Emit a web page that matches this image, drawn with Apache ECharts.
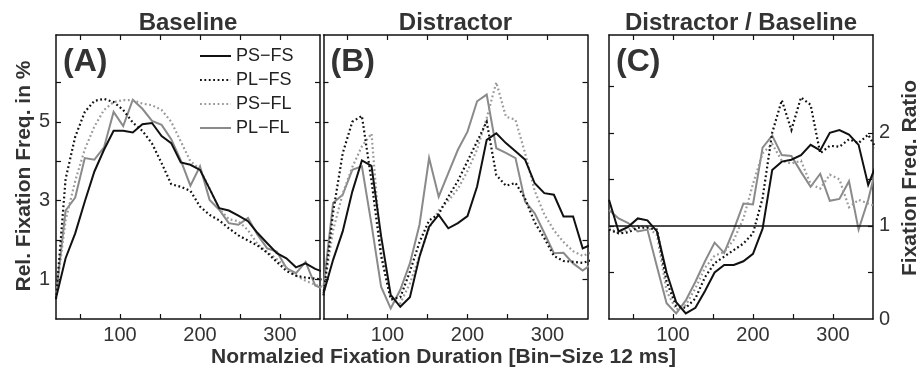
<!DOCTYPE html>
<html>
<head>
<meta charset="utf-8">
<script src="https://cdn.jsdelivr.net/npm/echarts@6/dist/echarts.min.js"></script>
<style>
  html, body { margin: 0; padding: 0; background: #fff; }
  #chart { width: 917px; height: 369px; }
</style>
</head>
<body>
<div id="chart"></div>
<script>
// normalised fixation duration (bin centres)
const durations = [20, 32, 44, 56, 68, 80, 92, 104, 116, 128, 140, 152, 164, 176, 188,
  200, 212, 224, 236, 248, 260, 272, 284, 296, 308, 320, 332, 344, 356];

// (A) Baseline, rel. fixation freq. in %
const basePSFS = [0.53, 1.54, 2.17, 2.98, 3.74, 4.29, 4.77, 4.77, 4.73, 4.94, 4.97, 4.64, 4.46, 3.97, 3.91,
  3.78, 3.3, 2.81, 2.75, 2.62, 2.48, 2.18, 1.92, 1.67, 1.54, 1.31, 1.41, 1.27, 1.18];
const basePLFS = [0.5, 3.55, 4.62, 5.25, 5.53, 5.58, 5.5, 5.3, 4.98, 4.77, 4.45, 3.95, 3.42, 3.35, 3.25,
  2.85, 2.64, 2.5, 2.3, 2.12, 1.99, 1.86, 1.68, 1.45, 1.22, 1.1, 1.05, 1.02, 1.0];
const basePSFL = [0.6, 2.5, 3.5, 4.3, 4.88, 5.3, 5.5, 5.55, 5.55, 5.46, 5.42, 5.3, 5.0, 4.5, 4.0,
  3.8, 3.3, 2.8, 2.53, 2.48, 2.25, 1.9, 1.7, 1.52, 1.3, 1.1, 0.97, 0.87, 0.8];
const basePLFL = [0.6, 2.75, 3.08, 4.08, 4.04, 4.35, 5.25, 4.89, 5.56, 5.33, 5.02, 4.92, 4.56, 4.02, 3.38,
  3.87, 3.02, 2.77, 2.43, 2.39, 2.56, 2.13, 1.79, 1.71, 1.29, 1.16, 1.45, 0.85, 0.75];

// (B) Distractor
const distPSFS = [0.65, 1.5, 2.22, 3.23, 4.02, 3.88, 2.1, 0.61, 0.31, 0.55, 1.58, 2.34, 2.64, 2.3, 2.43,
  2.61, 3.36, 4.54, 4.71, 4.46, 4.25, 4.04, 3.44, 3.19, 3.15, 2.6, 2.6, 1.79, 1.9];
const distPLFS = [0.6, 2.7, 4.2, 5.0, 5.15, 3.5, 1.6, 0.5, 0.55, 1.2, 1.95, 2.5, 2.66, 3.1, 3.5,
  4.0, 4.5, 5.0, 3.65, 3.38, 3.45, 3.05, 2.45, 2.05, 1.6, 1.47, 1.45, 1.42, 1.5];
const distPSFL = [0.7, 2.25, 3.18, 3.85, 4.38, 4.7, 1.7, 0.5, 0.4, 0.9, 1.6, 2.3, 2.75, 3.0, 3.3,
  3.75, 4.3, 5.1, 6.0, 5.13, 5.05, 4.2, 3.25, 2.65, 2.25, 1.95, 1.72, 1.6, 1.7];
const distPLFL = [0.82, 2.94, 3.15, 3.78, 3.87, 2.4, 0.82, 0.27, 0.74, 1.41, 2.39, 4.08, 3.1, 3.7, 4.29,
  4.75, 5.52, 5.69, 4.33, 4.21, 4.08, 2.98, 2.68, 2.18, 1.67, 1.68, 1.41, 1.23, 1.4];

// (C) Distractor / Baseline ratio
const ratioPSFS = [1.28, 0.94, 0.99, 1.08, 1.06, 0.94, 0.5, 0.18, 0.06, 0.12, 0.3, 0.5, 0.58, 0.58, 0.62,
  0.7, 0.97, 1.6, 1.69, 1.71, 1.76, 1.87, 1.81, 2.0, 2.03, 1.98, 1.87, 1.44, 1.7];
const ratioPLFS = [0.96, 0.92, 0.93, 0.98, 0.98, 0.96, 0.4, 0.14, 0.12, 0.22, 0.45, 0.6, 0.67, 0.74, 0.81,
  0.92, 1.3, 2.0, 2.35, 2.03, 2.38, 2.3, 1.78, 1.86, 1.85, 1.93, 1.89, 1.98, 1.8];
const ratioPSFL = [0.98, 0.92, 0.96, 1.0, 0.99, 0.9, 0.3, 0.1, 0.15, 0.33, 0.55, 0.68, 0.72, 0.85, 1.08,
  1.45, 1.78, 1.88, 1.7, 1.67, 1.7, 1.45, 1.4, 1.55, 1.5, 1.2, 1.28, 1.24, 1.2];
const ratioPLFL = [1.17, 1.08, 1.03, 0.94, 0.96, 0.56, 0.17, 0.06, 0.2, 0.4, 0.62, 0.82, 0.71, 0.96, 1.24,
  1.23, 1.84, 1.97, 1.76, 1.75, 1.58, 1.42, 1.56, 1.27, 1.29, 1.48, 0.96, 1.28, 1.7];

const names = ['PS−FS', 'PL−FS', 'PS−FL', 'PL−FL'];
const panelTitles = ['Baseline', 'Distractor', 'Distractor / Baseline'];
const panelLetters = ['(A)', '(B)', '(C)'];

const xTicks = [50, 100, 150, 200, 250, 300];
const xLabels = [100, 200, 300];
const freqTicks = [1, 2, 3, 4, 5, 6];
const freqLabels = [1, 3, 5];
const ratioTicks = [0.5, 1, 1.5, 2, 2.5];
const ratioLabels = [0, 1, 2];

const FONT = '"Liberation Sans", Arial, Helvetica, sans-serif';
const gridLefts = [56, 323.5, 609];
const GRID_TOP = 35, GRID_W = 264, GRID_H = 284;

function pairs(ys) {
  return durations.map((d, i) => [d, ys[i]]);
}

// style of the four groups
const styles = [
  { color: '#111', width: 2, type: 'solid' },
  { color: '#111', width: 2.2, type: [1.8, 2.6] },
  { color: '#9a9a9a', width: 2.2, type: [1.8, 2.6] },
  { color: '#8a8a8a', width: 2, type: 'solid' }
];

function xAxis(gi, pos) {
  const bottom = pos === 'bottom';
  return {
    type: 'value', gridIndex: gi, position: pos, min: 20, max: 350,
    axisLine: { show: true, onZero: false, lineStyle: { color: '#111', width: 1.5 } },
    axisTick: { show: true, inside: true, length: 5, customValues: xTicks, lineStyle: { color: '#111', width: 1.2 } },
    axisLabel: { show: bottom, customValues: xLabels, fontSize: 20, color: '#333', margin: 6, fontFamily: FONT },
    splitLine: { show: false }
  };
}

function yAxis(gi, pos, max, ticks, labels, showLabels) {
  return {
    type: 'value', gridIndex: gi, position: pos, min: 0, max: max,
    axisLine: { show: true, onZero: false, lineStyle: { color: '#111', width: 1.5 } },
    axisTick: { show: true, inside: true, length: 5, customValues: ticks, lineStyle: { color: '#111', width: 1.2 } },
    axisLabel: { show: showLabels, customValues: labels, fontSize: 20, color: '#333', margin: 6, fontFamily: FONT },
    splitLine: { show: false }
  };
}

const grids = gridLefts.map(l => ({ left: l, top: GRID_TOP, width: GRID_W, height: GRID_H }));

const xAxes = [];
const yAxes = [];
for (let g = 0; g < 3; g++) {
  xAxes.push(xAxis(g, 'bottom'), xAxis(g, 'top'));
}
yAxes.push(yAxis(0, 'left', 7.2, freqTicks, freqLabels, true));
yAxes.push(yAxis(0, 'right', 7.2, freqTicks, freqLabels, false));
yAxes.push(yAxis(1, 'left', 7.2, freqTicks, freqLabels, false));
yAxes.push(yAxis(1, 'right', 7.2, freqTicks, freqLabels, false));
yAxes.push(yAxis(2, 'left', 3.05, ratioTicks, ratioLabels, false));
yAxes.push(yAxis(2, 'right', 3.05, ratioTicks, ratioLabels, true));

const panelData = [
  [basePSFS, basePLFS, basePSFL, basePLFL],
  [distPSFS, distPLFS, distPSFL, distPLFL],
  [ratioPSFS, ratioPLFS, ratioPSFL, ratioPLFL]
];
// y axis used by each panel's curves
const panelY = [0, 2, 5];

const series = [];
panelData.forEach((group, g) => {
  group.forEach((ys, s) => {
    const st = styles[s];
    const item = {
      name: names[s],
      type: 'line',
      xAxisIndex: g * 2,
      yAxisIndex: panelY[g],
      data: pairs(ys),
      symbol: 'none',
      clip: true,
      z: 4 - s,
      color: st.color,
      lineStyle: { color: st.color, width: st.width, type: st.type, cap: 'butt', join: 'miter' },
      emphasis: { disabled: true }
    };
    if (g === 2 && s === 0) {
      item.markLine = {
        silent: true, symbol: 'none', label: { show: false },
        lineStyle: { color: '#111', width: 1.5, type: 'solid' },
        data: [{ yAxis: 1 }]
      };
    }
    series.push(item);
  });
});

const texts = [];
panelTitles.forEach((t, i) => {
  texts.push({
    type: 'text', x: gridLefts[i] + GRID_W / 2, y: 23.5,
    style: { text: t, font: 'bold 24px ' + FONT, fill: '#333', align: 'center', verticalAlign: 'middle' }
  });
  texts.push({
    type: 'text', x: gridLefts[i] + 7, y: 62,
    style: { text: panelLetters[i], font: 'bold 32px ' + FONT, fill: '#333', align: 'left', verticalAlign: 'middle' }
  });
});
texts.push({
  type: 'text', x: 24.5, y: 176, rotation: Math.PI / 2,
  style: { text: 'Rel. Fixation Freq. in %', font: 'bold 21px ' + FONT, fill: '#333', align: 'center', verticalAlign: 'middle' }
});
texts.push({
  type: 'text', x: 910, y: 178, rotation: Math.PI / 2,
  style: { text: 'Fixation Freq. Ratio', font: 'bold 21px ' + FONT, fill: '#333', align: 'center', verticalAlign: 'middle' }
});
texts.push({
  type: 'text', x: 443.5, y: 357,
  style: { text: 'Normalzied Fixation Duration [Bin−Size 12 ms]', font: 'bold 21px ' + FONT, fill: '#333', align: 'center', verticalAlign: 'middle' }
});

const chart = echarts.init(document.getElementById('chart'), null, { renderer: 'canvas' });
chart.setOption({
  animation: false,
  backgroundColor: '#fff',
  grid: grids,
  xAxis: xAxes,
  yAxis: yAxes,
  legend: {
    data: names,
    orient: 'vertical',
    left: 199, top: 47,
    itemWidth: 31, itemHeight: 12, itemGap: 6,
    padding: 0,
    itemStyle: { opacity: 0 },
    textStyle: { fontSize: 18, color: '#222', fontFamily: FONT, lineHeight: 18 }
  },
  graphic: texts,
  series: series
});
</script>
</body>
</html>
